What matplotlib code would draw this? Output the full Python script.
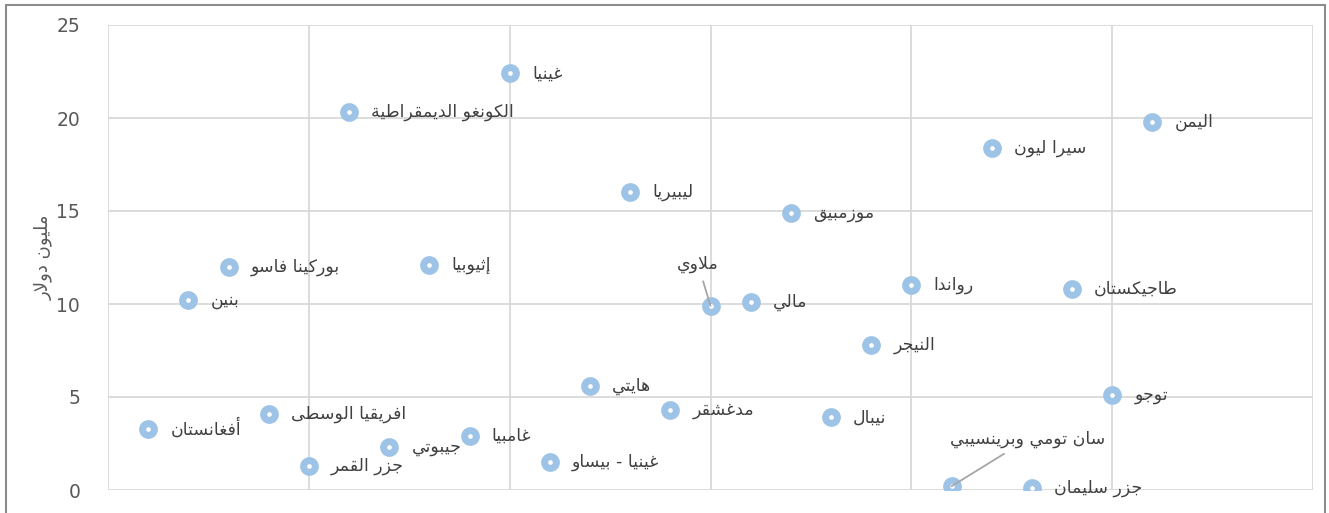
import numpy as np
import matplotlib.pyplot as plt
from matplotlib.patches import Rectangle

# data
countries = ['أفغانستان', 'بنين', 'بوركينا فاسو', 'افريقيا الوسطى', 'جزر القمر',
             'الكونغو الديمقراطية', 'جيبوتي', 'إثيوبيا', 'غامبيا', 'غينيا',
             'غينيا - بيساو', 'هايتي', 'ليبيريا', 'مدغشقر', 'ملاوي', 'مالي',
             'موزمبيق', 'نيبال', 'النيجر', 'رواندا', 'سان تومي وبرينسيبي',
             'سيرا ليون', 'جزر سليمان', 'طاجيكستان', 'توجو', 'اليمن']
values = [3.3, 10.2, 12.0, 4.1, 1.3, 20.3, 2.3, 12.1, 2.9, 22.4,
          1.5, 5.6, 16.0, 4.3, 9.9, 10.1, 14.9, 3.9, 7.8, 11.0,
          0.2, 18.4, 0.1, 10.8, 5.1, 19.8]
positions = np.arange(1, len(countries) + 1)
y_label = 'مليون دولار'
y_ticks = [0, 5, 10, 15, 20, 25]

# label offsets (points) for the two labels with leader lines
special = {'ملاوي': (-9, 30), 'سان تومي وبرينسيبي': (55, 34)}

# --- simple arabic shaping (matplotlib does no shaping / bidi) ---
DUAL = {'ب': 0xFE8F, 'ت': 0xFE95, 'ث': 0xFE99, 'ج': 0xFE9D, 'ح': 0xFEA1,
        'خ': 0xFEA5, 'س': 0xFEB1, 'ش': 0xFEB5, 'ص': 0xFEB9, 'ض': 0xFEBD,
        'ط': 0xFEC1, 'ظ': 0xFEC5, 'ع': 0xFEC9, 'غ': 0xFECD, 'ف': 0xFED1,
        'ق': 0xFED5, 'ك': 0xFED9, 'ل': 0xFEDD, 'م': 0xFEE1, 'ن': 0xFEE5,
        'ه': 0xFEE9, 'ي': 0xFEF1}
RIGHT = {'ا': 0xFE8D, 'أ': 0xFE83, 'إ': 0xFE87, 'آ': 0xFE81, 'ة': 0xFE93,
         'د': 0xFEA9, 'ذ': 0xFEAB, 'ر': 0xFEAD, 'ز': 0xFEAF, 'و': 0xFEED,
         'ى': 0xFEEF}
LAMALEF = {'ا': 0xFEFB, 'أ': 0xFEF7, 'إ': 0xFEF9, 'آ': 0xFEF5}


def shape(s):
    toks = []
    i = 0
    while i < len(s):
        c = s[i]
        if c == 'ل' and i + 1 < len(s) and s[i + 1] in LAMALEF:
            toks.append(('R', LAMALEF[s[i + 1]]))
            i += 2
            continue
        if c in DUAL:
            toks.append(('D', DUAL[c]))
        elif c in RIGHT:
            toks.append(('R', RIGHT[c]))
        else:
            toks.append(('N', c))
        i += 1
    out = []
    for k, (t, v) in enumerate(toks):
        if t == 'N':
            out.append(v)
            continue
        prev = k > 0 and toks[k - 1][0] == 'D'
        nxt = t == 'D' and k + 1 < len(toks) and toks[k + 1][0] != 'N'
        if prev and nxt:
            f = 3
        elif prev:
            f = 1
        elif nxt:
            f = 2
        else:
            f = 0
        out.append(chr(v + f))
    return ''.join(out[::-1])


fig = plt.figure(figsize=(13.29, 5.13), dpi=100)
ax = fig.add_axes([108 / 1329, 1 - 490 / 513, (1313 - 108) / 1329, 465 / 513])

ax.scatter(positions, values, s=72, facecolor='white', edgecolor='#9dc3e6',
           linewidths=5, zorder=3)

for name, xv, yv in zip(countries, positions, values):
    if name in special:
        ax.annotate(shape(name), (xv, yv), xytext=special[name],
                    textcoords='offset points', ha='center', va='center',
                    fontsize=12.5, color='#404040',
                    arrowprops=dict(arrowstyle='-', color='#a6a6a6', lw=1.3,
                                    shrinkA=4, shrinkB=0))
    else:
        ax.annotate(shape(name), (xv, yv), xytext=(16, 0),
                    textcoords='offset points', ha='left', va='center',
                    fontsize=12.5, color='#404040')

ax.set_xlim(0, 30)
ax.set_ylim(0, 25)
ax.set_xticks(np.arange(0, 31, 5))
ax.set_xticklabels([])
ax.set_yticks(y_ticks)
ax.tick_params(length=0, labelsize=13.5, labelcolor='#595959', pad=20)
ax.grid(True, color='#d9d9d9', lw=1.3)
for sp in ax.spines.values():
    sp.set_visible(False)
ax.set_ylabel(shape(y_label), fontsize=13, color='#595959')
ax.yaxis.set_label_coords(-55 / 1205, 0.5)

fig.patches.append(Rectangle((6 / 1329, -0.1), 1319 / 1329, 1.1 - 5 / 513,
                             transform=fig.transFigure, fill=False,
                             edgecolor='#8c8c8c', lw=1.5))

fig.savefig('out.png', dpi=100)
